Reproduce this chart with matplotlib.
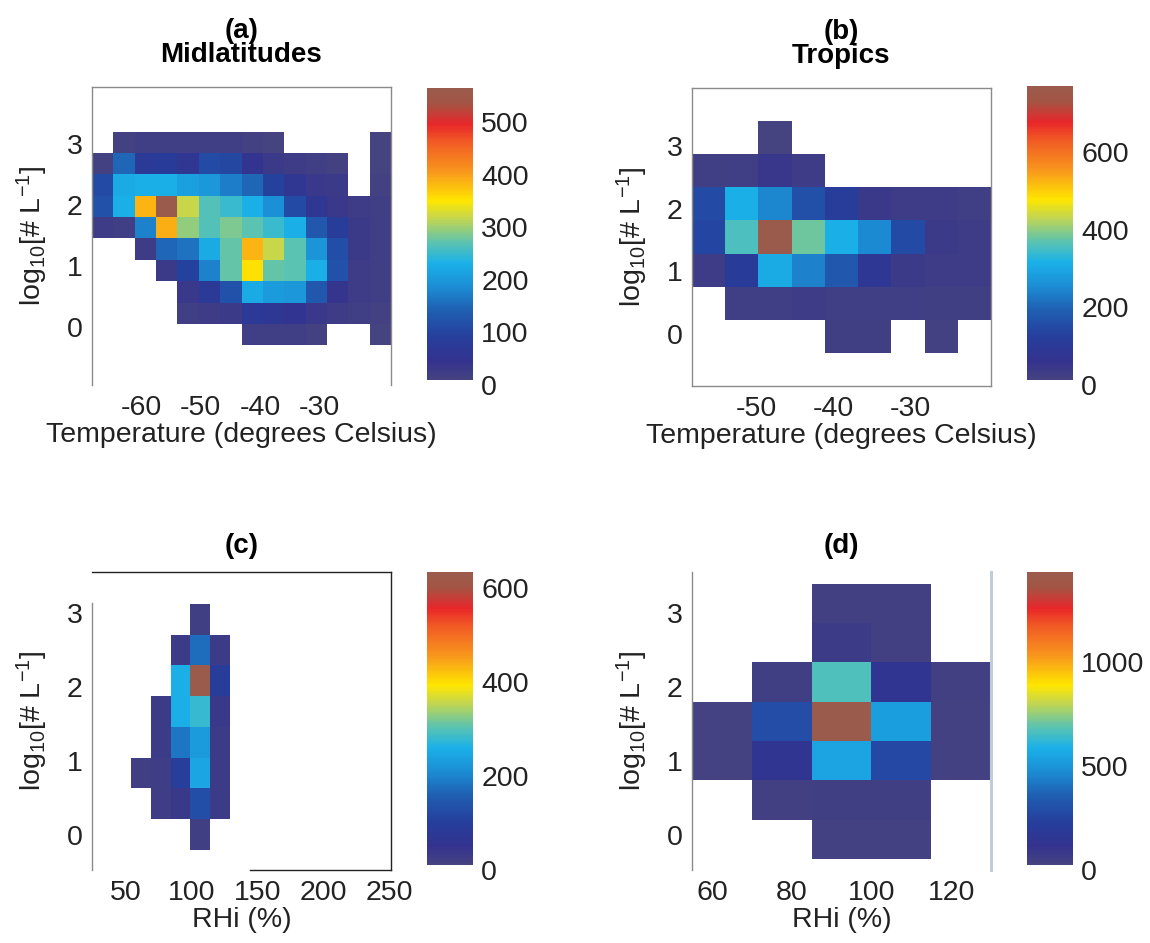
import numpy as np
import matplotlib
matplotlib.use("Agg")
import matplotlib.pyplot as plt
from matplotlib.colors import LinearSegmentedColormap, ListedColormap

plt.rcParams['font.family'] = ['Liberation Sans', 'DejaVu Sans']
plt.rcParams['mathtext.fontset'] = 'custom'
plt.rcParams['mathtext.rm'] = 'Liberation Sans'
plt.rcParams['mathtext.it'] = 'Liberation Sans'
plt.rcParams['mathtext.default'] = 'regular'
plt.rcParams['axes.unicode_minus'] = False

nan = np.nan
FS = 20.5

# --- bin edges (x: temperature / RHi, y: log10 concentration) ---
temp_edges_mid = np.linspace(-68.3, -17.9, 15)
conc_edges_mid = np.arange(11) * 0.35 - 0.30
temp_edges_trop = np.linspace(-58.3, -19.5, 10)
conc_edges_trop = np.arange(8) * 0.53 - 0.31
rhi_edges_mid = np.arange(6) * 15.0 + 54.0
conc_edges_rhi_mid = np.arange(9) * 0.415 - 0.20
rhi_edges_trop = np.arange(6) * 15.0 + 55.0
conc_edges_rhi_trop = np.arange(8) * 0.53 - 0.32

# --- counts, listed from the top row (highest concentration) down ---
counts_mid_temp = [
    [nan, 15, 20, 20, 20, 20, 20, 15, 10, nan, nan, nan, nan, 10],
    [15, 150, 75, 80, 60, 110, 105, 50, 30, 25, 20, 15, nan, 10],
    [110, 225, 230, 230, 210, 200, 170, 150, 95, 60, 35, 30, nan, 15],
    [120, 230, 385, 565, 320, 265, 250, 230, 190, 110, 60, 35, 25, 20],
    [25, 20, 175, 390, 295, 265, 285, 270, 250, 230, 130, 85, 30, 20],
    [nan, nan, 25, 150, 160, 225, 275, 385, 320, 270, 195, 115, 30, 20],
    [nan, nan, nan, 30, 95, 175, 275, 355, 275, 270, 230, 120, 25, 20],
    [nan, nan, nan, nan, 35, 75, 120, 225, 205, 200, 130, 40, 25, 20],
    [nan, nan, nan, nan, 20, 25, 30, 70, 65, 55, 35, 25, 20, 15],
    [nan, nan, nan, nan, nan, nan, nan, 20, 20, 20, 15, nan, nan, 10],
]
counts_trop_temp = [
    [nan, nan, 15, nan, nan, nan, nan, nan, nan],
    [25, 30, 50, 35, nan, nan, nan, nan, nan],
    [150, 315, 245, 160, 115, 45, 35, 35, 30],
    [140, 355, 770, 380, 315, 250, 150, 40, 35],
    [35, 110, 305, 240, 175, 90, 40, 35, 35],
    [nan, 30, 30, 35, 30, 30, 30, 25, 25],
    [nan, nan, nan, nan, 25, 25, nan, 20, nan],
]
counts_mid_rhi = [
    [nan, nan, nan, 20, nan],
    [nan, nan, 30, 175, 30],
    [nan, nan, 260, 635, 95],
    [nan, 30, 260, 280, 35],
    [nan, 30, 185, 230, 30],
    [20, 25, 100, 245, 30],
    [nan, 25, 35, 130, 30],
    [nan, nan, nan, 20, nan],
]
counts_trop_rhi = [
    [nan, nan, 40, 40, nan],
    [nan, nan, 70, 40, nan],
    [nan, 45, 670, 140, 40],
    [30, 285, 1430, 530, 35],
    [30, 140, 545, 270, 35],
    [nan, 40, 50, 45, nan],
    [nan, nan, 35, 35, nan],
]

cbar_max = [565, 770, 635, 1430]
cbar_ticks = [[0, 100, 200, 300, 400, 500], [0, 200, 400, 600],
              [0, 200, 400, 600], [0, 500, 1000]]
temp_ticks_mid = [-60, -50, -40, -30]
temp_ticks_trop = [-50, -40, -30]
rhi_ticks_mid = [50, 100, 150, 200, 250]
rhi_ticks_trop = [60, 80, 100, 120]
conc_ticks = [0, 1, 2, 3]

# colour scale: slate -> blue -> cyan -> yellow -> red -> brown, white at zero
base = LinearSegmentedColormap.from_list('counts', [
    (0.00, '#4a477c'), (0.08, '#33338f'), (0.16, '#263e9c'),
    (0.25, '#1f5fb2'), (0.33, '#1c8dd4'), (0.41, '#1ab1e8'),
    (0.48, '#5cc3b0'), (0.56, '#c3d650'), (0.62, '#ffe600'),
    (0.72, '#f8961d'), (0.82, '#f15a24'), (0.88, '#e8262a'),
    (0.95, '#a35544'), (1.00, '#9a5b4c')])
lut = base(np.linspace(0, 1, 256))
lut[:4] = [1, 1, 1, 1]
cmap = ListedColormap(lut)

fig = plt.figure(figsize=(11.5, 9.43), dpi=100)
W, H = 1150.0, 943.0


def add_axes(x0, y0, x1, y1):
    return fig.add_axes([x0 / W, 1 - y1 / H, (x1 - x0) / W, (y1 - y0) / H])


def panel(ax, cax, xe, ye, counts, vmax, xlim, ylim, xticks, cticks, xlabel, title, tpad):
    z = np.flipud(np.array(counts, dtype=float))
    mesh = ax.pcolormesh(xe, ye, np.ma.masked_invalid(z), cmap=cmap,
                         vmin=0, vmax=vmax, shading='flat')
    ax.set_xlim(xlim)
    ax.set_ylim(ylim)
    ax.set_xticks(xticks)
    ax.set_yticks(conc_ticks)
    ax.tick_params(length=0, labelsize=FS, pad=7, colors='#222222')
    ax.set_xlabel(xlabel, fontsize=FS, labelpad=1, color='#222222')
    ax.set_ylabel('log$_{10}$[# L$^{-1}$]', fontsize=FS, labelpad=12, color='#222222')
    ax.set_title(title, fontsize=20, fontweight='bold', linespacing=0.92, pad=tpad)
    for s in ax.spines.values():
        s.set_color('#8a8a8a')
        s.set_linewidth(1.0)
    cb = fig.colorbar(mesh, cax=cax, ticks=cticks)
    cb.outline.set_visible(False)
    cb.ax.tick_params(length=0, labelsize=FS, pad=6, colors='#222222')
    return ax


ax_a = add_axes(92, 87, 391, 385)
ax_b = add_axes(692, 88, 991, 386)
ax_c = add_axes(92, 572, 391, 870)
ax_d = add_axes(692, 572, 991, 870)
cax_a = add_axes(427, 88, 473, 385)
cax_b = add_axes(1027, 86, 1073, 385)
cax_c = add_axes(427, 572, 473, 870)
cax_d = add_axes(1027, 572, 1073, 870)

panel(ax_a, cax_a, temp_edges_mid, conc_edges_mid, counts_mid_temp, cbar_max[0],
      (-68.3, -17.9), (-0.95, 3.93), temp_ticks_mid, cbar_ticks[0],
      'Temperature (degrees Celsius)', '(a)\nMidlatitudes', 18)
panel(ax_b, cax_b, temp_edges_trop, conc_edges_trop, counts_trop_temp, cbar_max[1],
      (-58.3, -19.5), (-0.84, 3.93), temp_ticks_trop, cbar_ticks[1],
      'Temperature (degrees Celsius)', '(b)\nTropics', 18)
panel(ax_c, cax_c, rhi_edges_mid, conc_edges_rhi_mid, counts_mid_rhi, cbar_max[2],
      (24.5, 251.0), (-0.47, 3.55), rhi_ticks_mid, cbar_ticks[2],
      'RHi (%)', '(c)', 14)
panel(ax_d, cax_d, rhi_edges_trop, conc_edges_rhi_trop, counts_trop_rhi, cbar_max[3],
      (55.0, 130.0), (-0.47, 3.55), rhi_ticks_trop, cbar_ticks[3],
      'RHi (%)', '(d)', 14)

# axis box styles differ from panel to panel
ax_a.spines['bottom'].set_visible(False)
for side in ('top', 'right'):
    ax_c.spines[side].set_color('#222222')
ax_c.spines['bottom'].set_color('#222222')
ax_c.spines['bottom'].set_bounds(144, 251)
ax_c.spines['left'].set_bounds(-0.47, 3.13)
ax_d.spines['top'].set_visible(False)
ax_d.spines['bottom'].set_visible(False)
ax_d.spines['right'].set_color('#c2ccd6')
ax_d.spines['right'].set_linewidth(2.2)

fig.savefig('out.png', dpi=100, facecolor='white')
